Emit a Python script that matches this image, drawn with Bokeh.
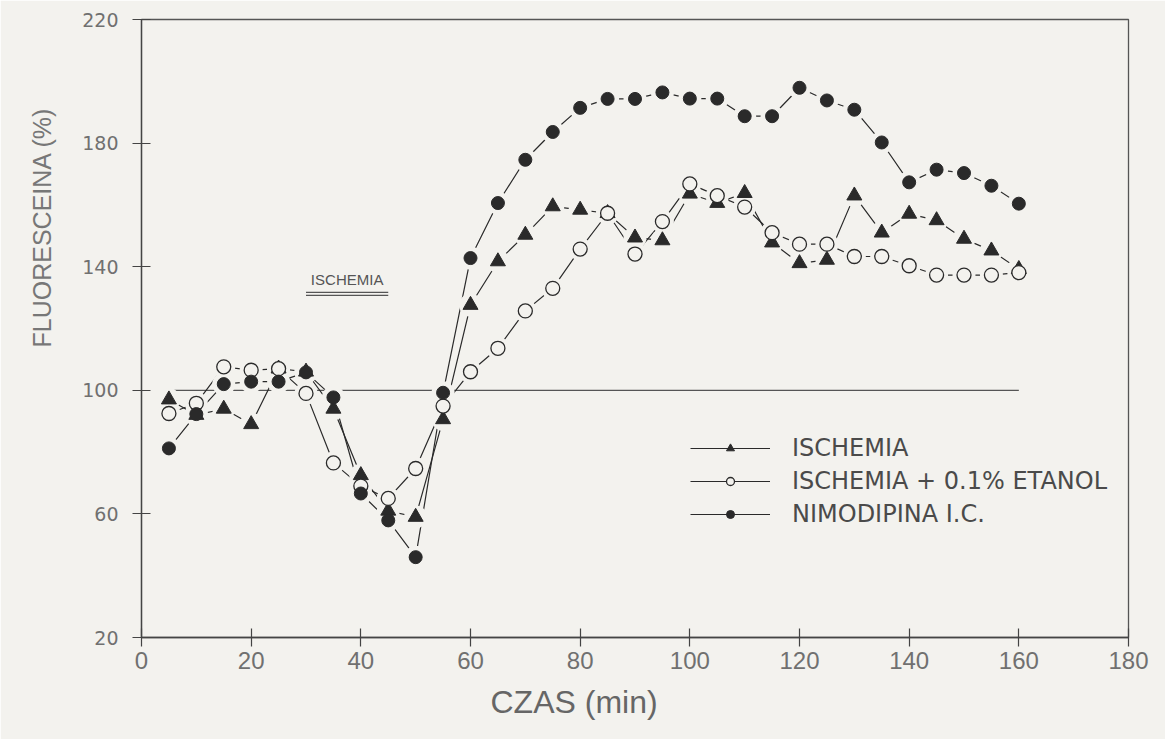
from bokeh.plotting import figure
from bokeh.models import Range1d, FixedTicker, Legend, LegendItem, Title
from bokeh.core.properties import value
from bokeh.embed import file_html
from bokeh.resources import INLINE

# ---- data ----
time_min = [5, 10, 15, 20, 25, 30, 35, 40, 45, 50, 55, 60, 65, 70, 75, 80,
            85, 90, 95, 100, 105, 110, 115, 120, 125, 130, 135, 140, 145, 150, 155, 160]

ischemia = [97, 92, 94, 89, 107, 106, 94, 72.5, 61, 59, 90.6, 127.6, 141.7, 150.3, 159.5, 158.4,
            157.3, 149.4, 148.5, 163.6, 160.6, 163.8, 147.8, 141.1, 142.2, 163, 151, 157.1, 155, 149, 145.2, 139.2]

etanol = [92.5, 95.8, 107.6, 106.5, 107, 99, 76.5, 69, 65, 74.7, 94.9, 106, 113.6, 125.7, 133, 145.7,
          157.3, 144.1, 154.6, 166.8, 163, 159.3, 151, 147.3, 147.3, 143.3, 143.3, 140.3, 137.3, 137.3, 137.3, 138.1]

nimodipina = [81.2, 92.3, 102, 102.8, 102.8, 105.8, 97.7, 66.6, 57.9, 46, 99.2, 142.8, 160.6, 174.6, 183.6, 191.4,
              194.3, 194.3, 196.4, 194.4, 194.4, 188.7, 188.7, 197.9, 193.8, 190.8, 180.2, 167.3, 171.4, 170.3, 166.2, 160.4]

series_labels = ["ISCHEMIA", "ISCHEMIA + 0.1% ETANOL", "NIMODIPINA I.C."]
x_ticks = [0, 20, 40, 60, 80, 100, 120, 140, 160, 180]
y_ticks = [20, 60, 100, 140, 180, 220]
baseline = 100
ischemia_period = [30, 45]
ischemia_bar_level = 131.2

BG = "#f3f2ee"
INK = "#2a2a2a"
TXT = "#707070"

p = figure(width=1165, height=739, output_backend="svg", toolbar_location=None,
           x_range=Range1d(0, 180), y_range=Range1d(20, 220),
           min_border_left=141, min_border_right=37, min_border_top=19, min_border_bottom=102)
p.background_fill_color = BG
p.border_fill_color = BG
p.outline_line_color = "#555555"
p.outline_line_width = 1.3
p.grid.visible = False

for ax in (p.xaxis[0], p.yaxis[0]):
    ax.axis_line_color = "#444444"
    ax.axis_line_width = 1.3
    ax.major_tick_line_color = "#444444"
    ax.major_tick_line_width = 1.2
    ax.major_tick_in = 9
    ax.major_tick_out = 9
    ax.minor_tick_line_color = None
    ax.major_label_text_color = TXT

p.xaxis[0].ticker = FixedTicker(ticks=x_ticks)
p.yaxis[0].ticker = FixedTicker(ticks=y_ticks)
p.xaxis[0].major_label_text_font = "Liberation Sans"
p.xaxis[0].major_label_text_font_size = "24px"
p.xaxis[0].major_label_standoff = 5
p.yaxis[0].major_label_text_font = "DejaVu Sans"
p.yaxis[0].major_label_text_font_size = "19px"
p.yaxis[0].major_label_standoff = 14

# reference line at 100 %
p.line([time_min[0], time_min[-1]], [baseline, baseline], line_color="#555555", line_width=1.3)

# series lines
l1 = p.line(time_min, ischemia, line_color=INK, line_width=1.2)
l2 = p.line(time_min, etanol, line_color=INK, line_width=1.2)
l3 = p.line(time_min, nimodipina, line_color=INK, line_width=1.2)

# background halos to create gaps around markers (as in the plotter original)
for ys in (ischemia, etanol, nimodipina):
    p.scatter(time_min, ys, marker="circle", size=23, fill_color=BG, line_color=None)

m1 = p.scatter(time_min, ischemia, marker="triangle", size=15, fill_color=INK, line_color=INK)
m2 = p.scatter(time_min, etanol, marker="circle", size=14, fill_color=BG, line_color=INK, line_width=1.3)
m3 = p.scatter(time_min, nimodipina, marker="circle", size=13, fill_color=INK, line_color=INK)

# ischemia period annotation
p.text(x=[sum(ischemia_period) / 2], y=[ischemia_bar_level + 4.6], text=["ISCHEMIA"],
       text_font=value("Liberation Sans"), text_font_size="15px", text_color="#555555",
       text_align="center", text_baseline="middle")
p.segment(x0=[ischemia_period[0]] * 2, x1=[ischemia_period[1]] * 2,
          y0=[ischemia_bar_level + 0.5, ischemia_bar_level - 0.5],
          y1=[ischemia_bar_level + 0.5, ischemia_bar_level - 0.5],
          line_color="#555555", line_width=1.2)

legend = Legend(items=[LegendItem(label=series_labels[0], renderers=[l1, m1]),
                       LegendItem(label=series_labels[1], renderers=[l2, m2]),
                       LegendItem(label=series_labels[2], renderers=[l3, m3])],
                location=(549, 109), orientation="vertical")
legend.background_fill_alpha = 0
legend.border_line_color = None
legend.padding = 0
legend.margin = 0
legend.glyph_width = 80
legend.glyph_height = 20
legend.label_height = 20
legend.spacing = 5
legend.label_standoff = 22
legend.label_text_font = "DejaVu Sans"
legend.label_text_font_size = "24px"
legend.label_text_color = "#4a4a4a"
p.add_layout(legend)

ytitle = Title(text="FLUORESCEINA (%)", align="left", offset=290, standoff=44,
               vertical_align="top",
               text_font="Liberation Sans", text_font_size="25px", text_font_style="normal",
               text_color="#777777")
xtitle = Title(text="CZAS (min)", align="left", offset=349, standoff=20,
               vertical_align="bottom",
               text_font="Liberation Sans", text_font_size="32px", text_font_style="normal",
               text_color="#666666")
p.add_layout(ytitle, "left")
p.add_layout(xtitle, "below")

open("out.html", "w").write(file_html(p, INLINE))
